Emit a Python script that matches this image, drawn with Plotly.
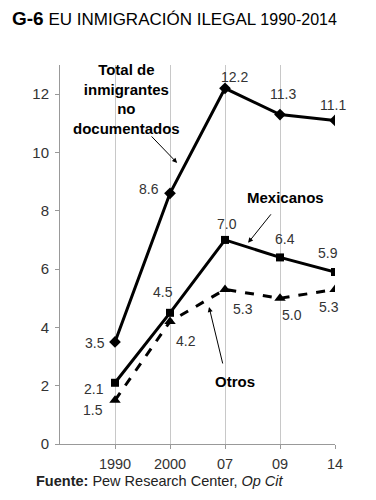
import plotly.graph_objects as go

years = ["1990", "2000", "07", "09", "14"]
total = [3.5, 8.6, 12.2, 11.3, 11.1]
mexicanos = [2.1, 4.5, 7.0, 6.4, 5.9]
otros = [1.5, 4.2, 5.3, 5.0, 5.3]
y_ticks = [0, 2, 4, 6, 8, 10, 12]

FONT = "Liberation Sans"

fig = go.Figure()
fig.add_trace(go.Scatter(x=years, y=total, mode="lines+markers",
                         line=dict(color="black", width=3),
                         marker=dict(symbol="diamond", size=9, color="black")))
fig.add_trace(go.Scatter(x=years, y=mexicanos, mode="lines+markers",
                         line=dict(color="black", width=3),
                         marker=dict(symbol="square", size=8, color="black")))
fig.add_trace(go.Scatter(x=years, y=otros, mode="lines+markers",
                         line=dict(color="black", width=3, dash="dash"),
                         marker=dict(symbol="triangle-up", size=10, color="black")))

ann = []
lbl = dict(size=14, color="#333333", family=FONT)
tot_sh = [(-20, -1), (-21, 4), (9, 11), (3, 21), (-2, 15)]
mex_sh = [(-21, -6), (-7, 21), (2, 16), (5, 18), (-7, 19)]
otr_sh = [(-22, -10), (16, -19), (18, -20), (12, -17), (-6, -18)]
for vals, sh in ((total, tot_sh), (mexicanos, mex_sh), (otros, otr_sh)):
    for i, v in enumerate(vals):
        ann.append(dict(x=i, y=v, text=f"{v:.1f}", showarrow=False,
                        xshift=sh[i][0], yshift=sh[i][1], font=lbl))

bold = dict(size=15, color="black", family=FONT)
ann.append(dict(x=0.2, y=11.85, text="<b>Total de<br>inmigrantes<br>no<br>documentados</b>",
                showarrow=False, font=bold, align="center"))
ann.append(dict(x=1.13, y=9.64, ax=-27, ay=-28, showarrow=True, arrowhead=2,
                arrowsize=1, arrowwidth=1, arrowcolor="black", text=""))
ann.append(dict(x=3.1, y=8.44, text="<b>Mexicanos</b>", showarrow=False, font=bold))
ann.append(dict(x=2.42, y=6.9, ax=24, ay=-30, showarrow=True, arrowhead=2,
                arrowsize=1, arrowwidth=1, arrowcolor="black", text=""))
ann.append(dict(x=2.18, y=2.13, text="<b>Otros</b>", showarrow=False, font=bold))
ann.append(dict(x=1.71, y=4.7, ax=14, ay=58, showarrow=True, arrowhead=2,
                arrowsize=1, arrowwidth=1, arrowcolor="black", text=""))

ann.append(dict(xref="paper", yref="paper", x=-0.0945, y=-0.0976, xanchor="left", yanchor="middle",
                showarrow=False,
                text="<b>Fuente:</b> Pew Research Center, <i>Op Cit</i>",
                font=dict(size=14.5, color="#222222", family=FONT)))
ann.append(dict(xref="paper", yref="paper", x=-0.182, y=1.1214, xanchor="left", yanchor="middle",
                showarrow=False,
                text="<b><span style='font-size:19px'>G-6</span></b> EU INMIGRACIÓN ILEGAL "
                     "<span style='font-size:16px'>1990-2014</span>",
                font=dict(size=17, color="black", family=FONT)))

# the page body adds an 8px offset; margins compensate so the plot lands where the reference has it
fig.update_layout(
    width=376, height=500,
    margin=dict(l=52, r=49, t=57, b=64),
    paper_bgcolor="white", plot_bgcolor="white",
    showlegend=False,
    annotations=ann,
    font=dict(family=FONT, color="#333333"),
)
fig.update_xaxes(type="category", range=[-1, 4], showgrid=True, gridcolor="#c8c8c8",
                 gridwidth=1, showline=True, linecolor="#999999", linewidth=1,
                 ticks="outside", ticklen=4, tickcolor="#999999", ticklabelstandoff=3,
                 tickfont=dict(size=14.5, color="#333333", family=FONT))
fig.update_yaxes(range=[0, 13], tickvals=y_ticks, showgrid=False, zeroline=False,
                 showline=True, linecolor="#999999", linewidth=1,
                 ticks="outside", ticklen=4, tickcolor="#999999", ticklabelstandoff=3,
                 tickfont=dict(size=15, color="#333333", family=FONT))

fig.write_html("out.html")
